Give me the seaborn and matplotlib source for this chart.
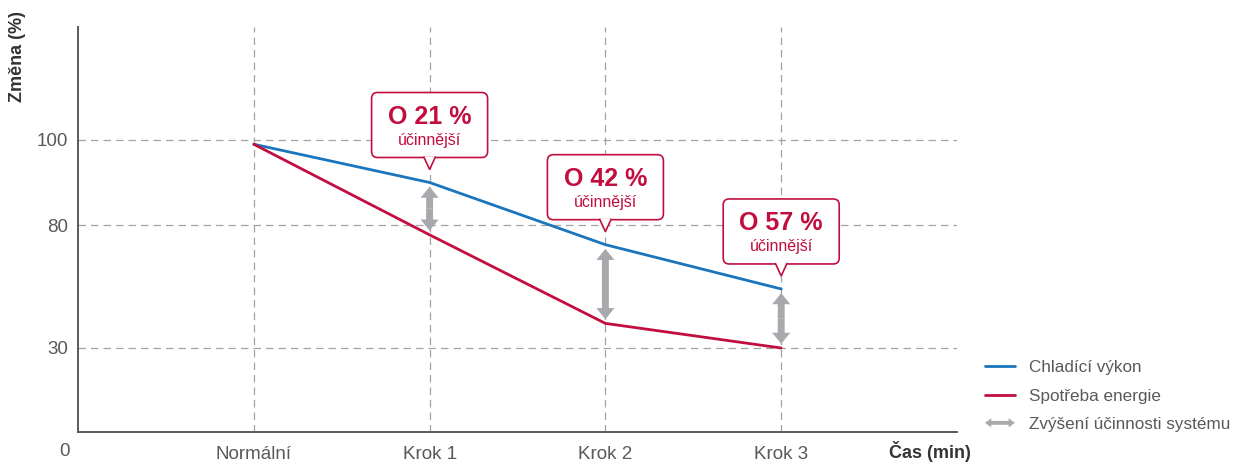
import matplotlib

matplotlib.use("Agg")
import matplotlib.patches as mpatches
import matplotlib.pyplot as plt
import matplotlib.transforms as mtransforms
import numpy as np
import pandas as pd
import seaborn as sns
from matplotlib.legend_handler import HandlerPatch

# Chart data
steps = ["Normální", "Krok 1", "Krok 2", "Krok 3"]
cooling = [99, 90, 72, 54]
energy = [99, 76, 40, 30]
gain_labels = ["O 21 %", "O 42 %", "O 57 %"]
gain_note = "účinnější"
y_ticks = [30, 80, 100]
series_names = ["Chladící výkon", "Spotřeba energie"]
arrow_label = "Zvýšení účinnosti systému"

BLUE = "#1B75BC"
RED = "#C20E3F"
ARROW_GRAY = "#A7A9AC"
TEXT_GRAY = "#58595B"
GRID_GRAY = "#A3A3A3"

sns.set_style("white")
plt.rcParams["font.family"] = ["Liberation Sans", "DejaVu Sans"]

# The value axis is not linear: each tick band has its own height
scale_values = [0, 30, 80, 100, 126.6]
scale_pixels = [0, 84, 207, 292, 405]


def forward(values):
    return np.interp(values, scale_values, scale_pixels)


def inverse(pixels):
    return np.interp(pixels, scale_pixels, scale_values)


df = pd.DataFrame(
    {
        "step": steps * 2,
        "value": cooling + energy,
        "series": [series_names[0]] * len(steps) + [series_names[1]] * len(steps),
    }
)

figure = plt.figure(figsize=(12.4, 4.62), dpi=100)
axis = figure.add_axes([78 / 1240, 30 / 462, 879 / 1240, 405 / 462])

sns.lineplot(
    data=df,
    x="step",
    y="value",
    hue="series",
    palette={series_names[0]: BLUE, series_names[1]: RED},
    linewidth=2,
    sort=False,
    ax=axis,
    zorder=3,
)
handles, labels = axis.get_legend_handles_labels()
axis.get_legend().remove()

axis.set_yscale("function", functions=(forward, inverse))
axis.set_ylim(0, 126.6)
axis.set_xlim(-1, len(steps))
axis.set_yticks(y_ticks)
axis.set_xlabel("")
axis.set_ylabel("")

for side in ["top", "right"]:
    axis.spines[side].set_visible(False)
for side in ["left", "bottom"]:
    axis.spines[side].set_color("#5A5A5A")
    axis.spines[side].set_linewidth(1.4)

axis.grid(True, color=GRID_GRAY, linestyle=(0, (6, 4)), linewidth=0.9)
axis.set_axisbelow(True)
axis.tick_params(axis="both", length=0, labelsize=13.5, labelcolor=TEXT_GRAY)
axis.tick_params(axis="y", pad=7)
axis.tick_params(axis="x", pad=10)

axis.annotate(
    "0", xy=(0, 0), xycoords="axes fraction", xytext=(-13, -20),
    textcoords="offset pixels", ha="center", va="center",
    fontsize=13.5, color=TEXT_GRAY,
)
axis.annotate(
    "Čas (min)", xy=(1, 0), xycoords="axes fraction", xytext=(-27, -20),
    textcoords="offset pixels", ha="center", va="center",
    fontsize=13, fontweight="bold", color="#333333",
)
figure.text(
    18 / 1240, 1 - 57 / 462, "Změna (%)", rotation=90, ha="center", va="center",
    fontsize=13, fontweight="bold", color="#333333",
)

# Gray double arrows between the two curves
for index in range(1, len(steps)):
    top, bottom = cooling[index], energy[index]
    middle = inverse((forward(top) + forward(bottom)) / 2)
    for end in (top, bottom):
        axis.add_patch(
            mpatches.FancyArrowPatch(
                (index, middle), (index, end),
                arrowstyle="simple,head_length=0.8,head_width=1.3,tail_width=0.5",
                mutation_scale=10, color=ARROW_GRAY, linewidth=0,
                shrinkA=0, shrinkB=3, zorder=4,
            )
        )

# Callouts above the cooling curve
for index, label in zip(range(1, len(steps)), gain_labels):
    anchor = mtransforms.ScaledTranslation(index, cooling[index], axis.transData)
    axis.add_patch(
        mpatches.FancyBboxPatch(
            (-58, 25), 116, 65, boxstyle="round,pad=0,rounding_size=6",
            facecolor="white", edgecolor=RED, linewidth=1.2,
            transform=anchor, zorder=5, clip_on=False,
        )
    )
    axis.add_patch(
        mpatches.Polygon(
            [(-6, 26), (0, 13), (6, 26)], closed=False,
            facecolor="white", edgecolor=RED, linewidth=1.2,
            transform=anchor, zorder=6, clip_on=False,
        )
    )
    axis.text(
        0, 59, label, transform=anchor, ha="center", va="baseline",
        fontsize=18, fontweight="bold", color=RED, zorder=7,
    )
    axis.text(
        0, 38, gain_note, transform=anchor, ha="center", va="baseline",
        fontsize=11.5, color=RED, zorder=7,
    )


def make_double_arrow(legend, orig_handle, xdescent, ydescent, width, height, fontsize):
    center = -ydescent + height / 2
    left, right = -xdescent, -xdescent + width
    head, half_head, half_tail = 4.5, 3.3, 1.4
    points = [
        (left, center),
        (left + head, center + half_head),
        (left + head, center + half_tail),
        (right - head, center + half_tail),
        (right - head, center + half_head),
        (right, center),
        (right - head, center - half_head),
        (right - head, center - half_tail),
        (left + head, center - half_tail),
        (left + head, center - half_head),
    ]
    return mpatches.Polygon(points, closed=True)


arrow_handle = mpatches.Patch(facecolor=ARROW_GRAY, edgecolor="none")
legend = figure.legend(
    handles + [arrow_handle],
    labels + [arrow_label],
    handler_map={arrow_handle: HandlerPatch(patch_func=make_double_arrow)},
    loc="center left",
    bbox_to_anchor=(985 / 1240, 1 - 396 / 462),
    frameon=False,
    fontsize=12.3,
    handlelength=1.75,
    handletextpad=0.8,
    labelspacing=0.78,
    borderpad=0,
    borderaxespad=0,
)
for text in legend.get_texts():
    text.set_color(TEXT_GRAY)

figure.savefig("out.png", dpi=100)
plt.close(figure)
